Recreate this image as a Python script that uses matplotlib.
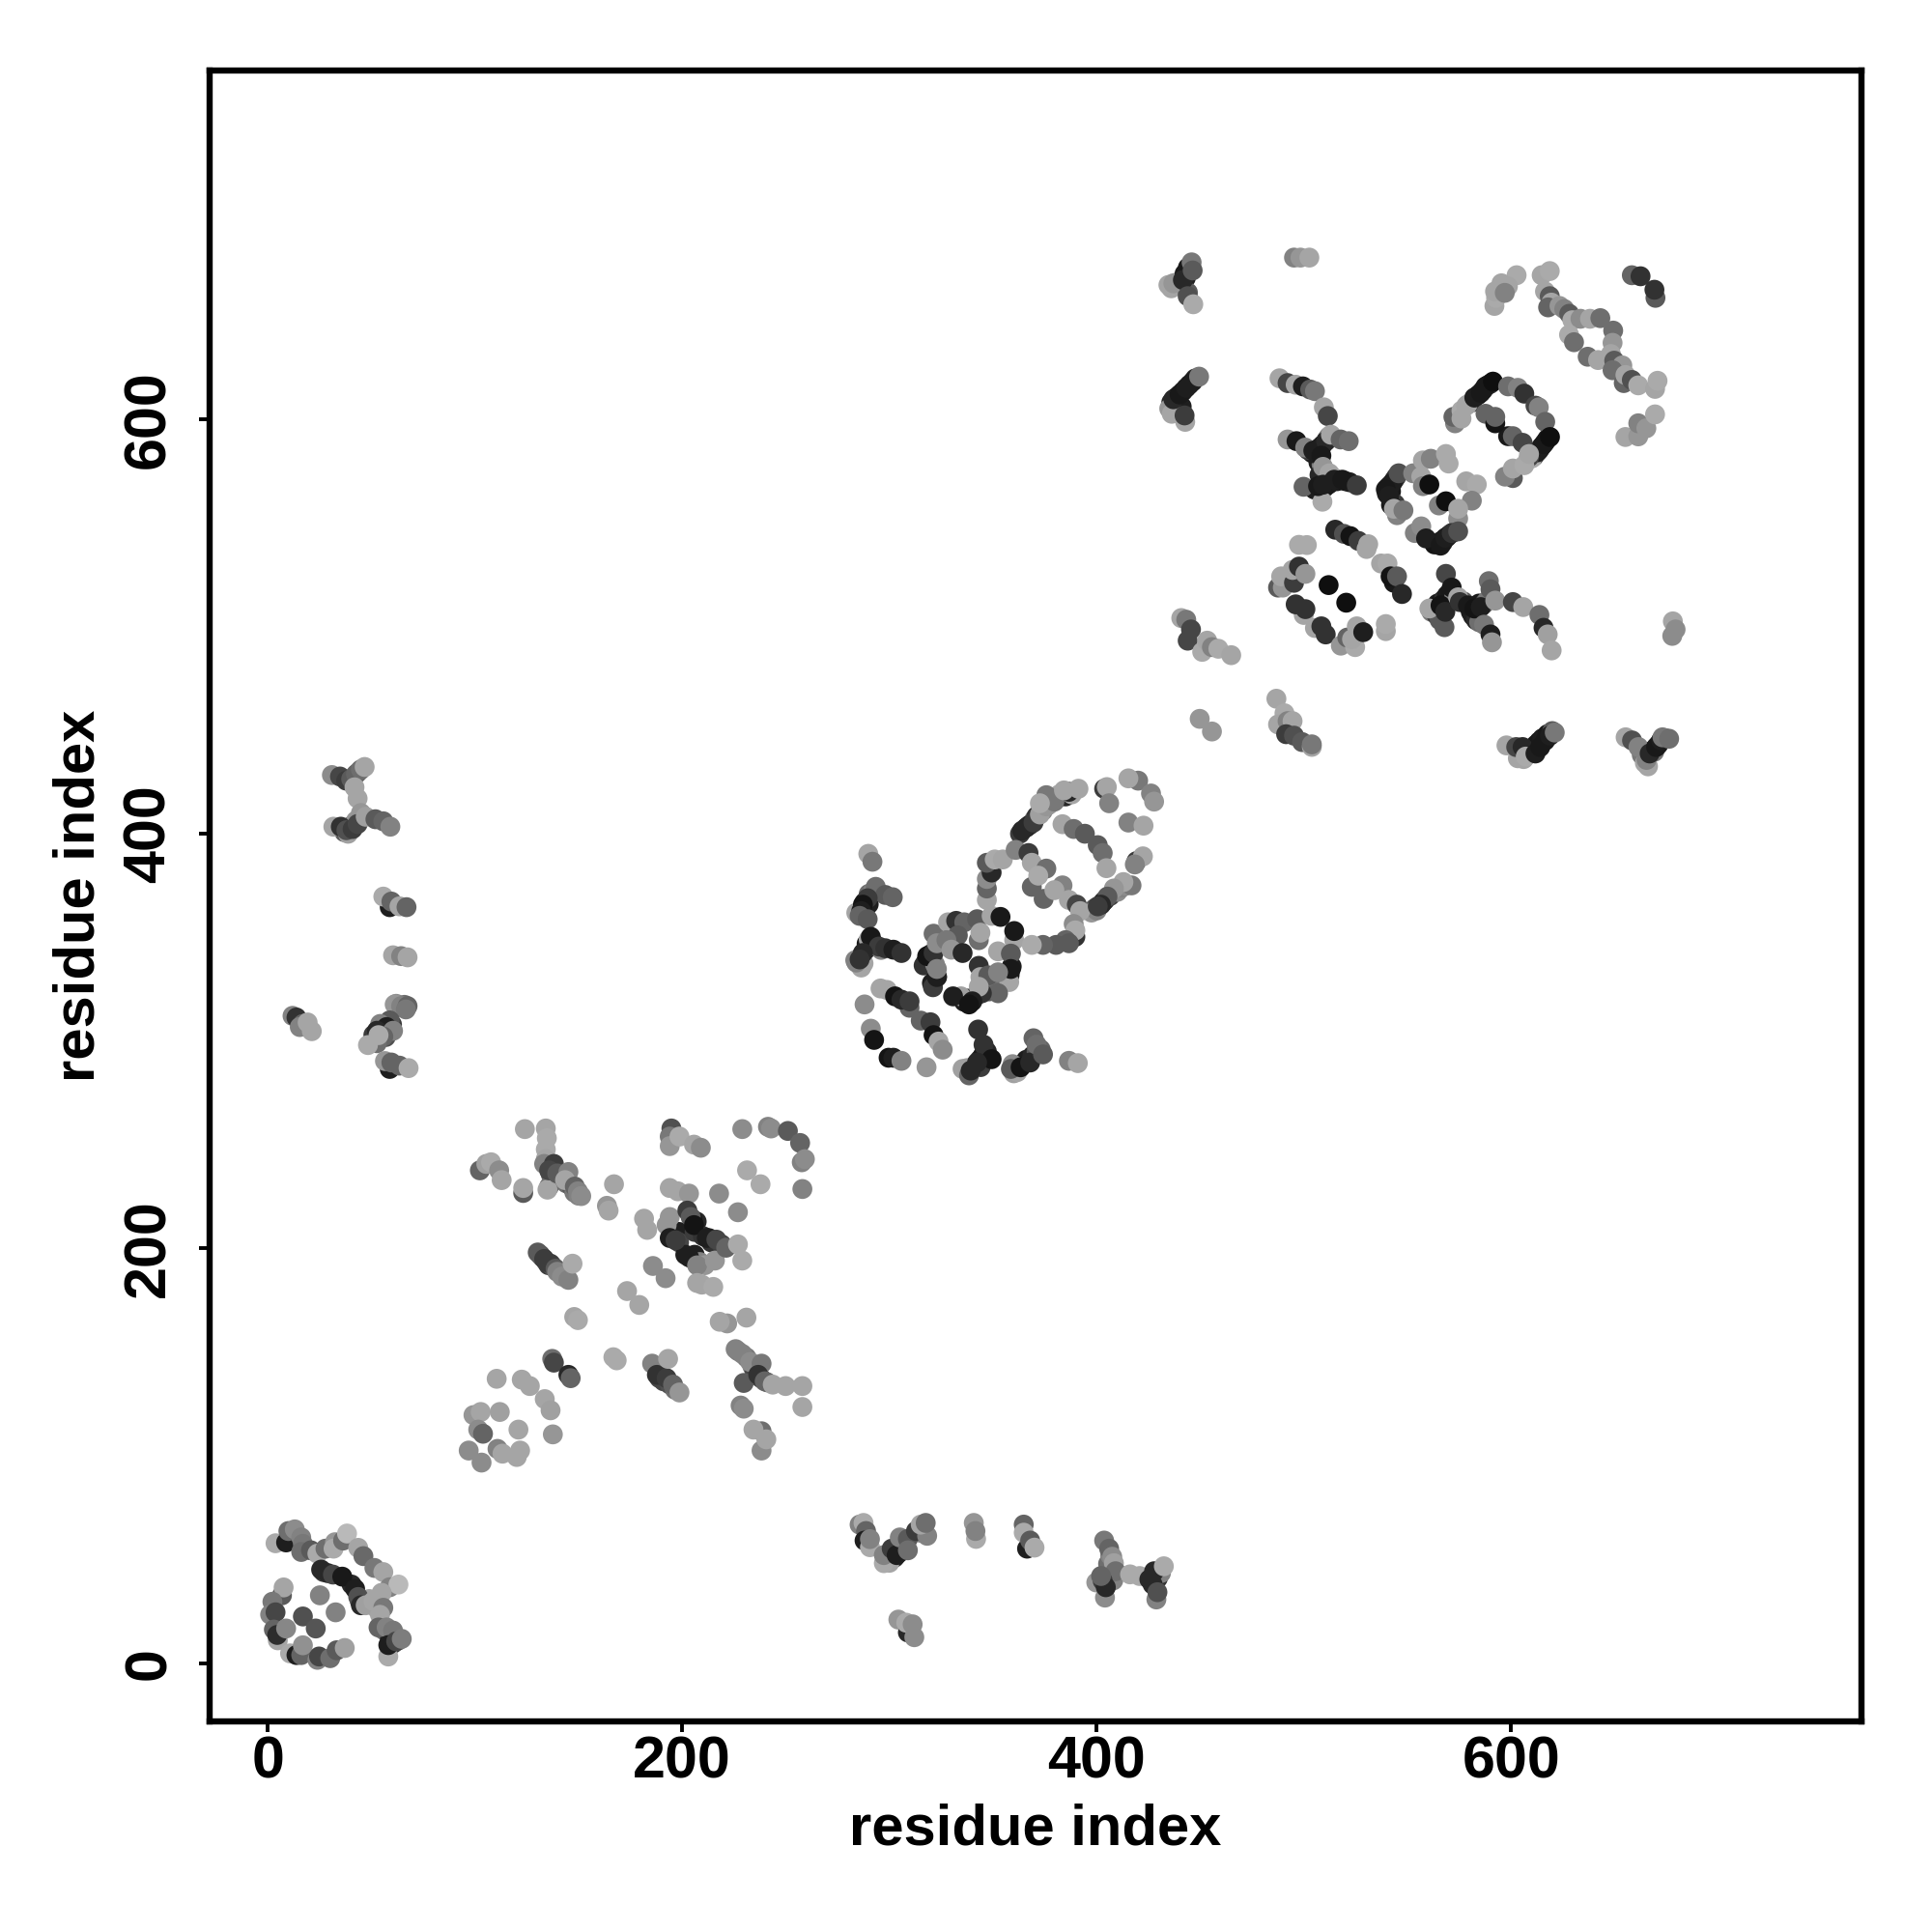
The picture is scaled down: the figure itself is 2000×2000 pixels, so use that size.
import numpy as np
import matplotlib
matplotlib.use("Agg")
import matplotlib.pyplot as plt

# (residue i, residue j, grey level), one list per block
block_a = [
    (3.8,57.9,170),(8.9,58.3,30),(10,63.8,110),(13.1,64.6,140),(16.2,60.7,130),(17,57.6,120),(16.2,53.7,110),
    (20.9,54.5,90),(24,52.9,170),(27.9,55.3,110),(32.5,58.4,150),(31.8,55.3,170),(36.4,59.2,110),(38.3,62.6,185),
    (43.7,55.7,165),(46.2,51.7,105),(51.5,46,120),(55.8,44,165),(58.9,36.7,130),(63.1,38,185),(25.8,45.2,40),
    (31.5,42.8,70),(36,41.8,25),(42.2,35.9,30),(43.7,32,80),(45,28,40),(47.3,28,160),(51,30,165),(55,34,165),
    (55.8,26.8,120),(54.2,23.4,165),(53.5,17.3,100),(57.4,17.3,130),(60.5,15.8,120),(58.2,3.3,170),(58.2,8.8,30),
    (62,10.6,70),(64.7,11.8,125),(6.9,32.8,90),(7.7,36.6,165),(2.3,29.7,120),(1.2,23.5,130),(3.8,24.6,70),
    (25.2,32.8,130),(32.8,24.6,130),(17,22.6,80),(23.2,16.8,85),(3,16.3,100),(4.9,11.1,165),(4.6,13.7,45),
    (8.9,16.8,135),(10.8,4.8,170),(13.9,4,30),(16.2,4,100),(17,8.7,145),(24,1.7,130),(24.8,3.3,70),(30.2,2.5,110),
    (33.3,6.3,90),(37.2,7.4,160),
]
block_b = [
    (31,428.3,140),(34.9,427.6,70),(37.9,425.6,60),(40.3,426.4,90),(42.6,428.7,100),(45,431,110),(46.8,432.2,165),
    (43.4,417,165),(41.9,422.4,165),(45,410,150),(42.6,406.3,150),(31.7,403.4,165),(35.3,403.4,50),(38.8,400,160),
    (38,401.7,80),(41,402.3,60),(43.4,404.7,70),(47.3,408.2,160),(52,407,90),(55.8,406,100),(59.2,403.4,130),
    (58.9,364.6,30),(55.8,369.7,170),(59.7,367.3,100),(63.6,365,165),(67,364.6,100),(60.5,341.4,165),(64.4,341,130),
    (67.5,340.4,165),(12,312.2,130),(13.9,311.4,50),(17,308.3,100),(15.5,306.8,130),(19.3,309,165),(21.3,304.8,165),
    (61.3,317.7,150),(64.4,316.9,130),(67.5,316.9,100),(66.7,315.3,120),(58.9,310,90),(54.3,308.3,130),(57.4,306.8,30),
    (52.7,305,40),(60.5,305,130),(55.8,302.2,100),(52.7,299,110),(48.4,298.1,170),(53.5,302.9,170),(58.9,286.6,30),
    (56.6,290.4,150),(59.7,289.7,100),(63.6,288.2,100),(68,287,170),
]
block_c = [
    (124.1,257.6,165),(134.2,257.9,165),(134.7,253.2,170),(134.2,247.8,170),(134.2,243.1,165),(133.4,240.8,130),
    (135.8,229.9,110),(135,228.4,165),(138.1,240.8,60),(135.8,237.7,70),(139.7,236.2,90),(145.1,236.9,130),
    (143.5,233,165),(148.2,229.9,100),(149.7,227.6,130),(151.3,225.3,140),(102.4,237.7,100),(105.5,240.8,160),
    (107.8,241.6,170),(111.7,237.7,140),(112.9,233,165),(123.3,226.8,90),(123.3,229.2,165),
    (194.8,257.9,80),(194,254,120),(194,249.4,150),(198.7,254,170),(205.7,250.1,165),(209,248.6,140),
    (229,257.6,140),(241.4,258.7,130),(242.9,257.9,140),(251,256.7,90),(256.9,250.9,100),(257.7,241.6,130),(259.2,243.1,140),
    (231.3,237.7,170),(237.8,231,170),(258,228.7,130),(217.8,226.5,140),(226.9,217.5,140),
    (167.1,231,165),(163.7,220.6,150),(164.5,218.3,165),(194,229.2,165),(197.9,227.6,165),(203.3,226.5,150),
    (181.6,214.4,165),(183.1,209,165),(194,215.2,150),(192.5,211.3,150),(202.5,218.3,60),(204.1,215.2,90),
    (205.7,211.3,20),(194,205.1,30),(196.8,204,60),(203.3,195.8,30),(207.2,191.9,130),(215.8,194.2,150),
    (211.9,205.1,30),(216.5,204.3,70),(221.2,200.4,100),(226.9,202,170),(229,194.2,170),
    (185.9,191.6,140),(192,185.7,140),(207.2,183.4,165),(209.5,182.6,165),(215,181.5,170),(173.4,179.5,165),(179.3,172.8,165),
    (147.9,167,165),(149.7,165.5,170),(221.7,163.9,150),(218.1,164.7,165),(231,166.7,165),
    (130.3,198.1,90),(133.4,195,60),(136.5,192.7,60),(138.9,190.3,90),(139.7,188.8,130),(142,186.5,140),(145.1,184.9,130),(147.1,192.7,170),
    (166.8,147.6,170),(168.4,146.1,170),(137.3,146.8,110),(138.1,145,70),(145.1,139.1,40),(146.2,137.5,100),
    (185.5,144.5,130),(187.8,139.1,50),(192.5,137.5,60),(193.2,146.8,165),(195.6,134.4,100),(198.7,130.6,150),
    (225.8,151.5,130),(229,149.2,130),(232.8,145.3,140),(238.3,144.5,120),(229.7,135.2,90),(236.7,139.1,50),(239.8,136,100),
    (243.7,134.4,165),(249.9,133.7,165),(258,133.7,165),(258,123.6,165),(228.2,124.3,130),(229.7,122.8,140),
    (238.3,111.9,110),(234.4,112.7,165),(238.3,102.6,140),(240.6,108,165),
    (110.5,137.2,165),(122.6,136.8,165),(126.5,133.7,165),(133.7,127.4,165),(136.5,122,160),(137.6,110.4,150),
    (99.3,119.7,150),(102.8,121.2,165),(112,121.2,160),(101.6,112.7,140),(103.9,110.7,100),(121,112.7,165),
    (110.9,103.4,130),(113.3,101.1,165),(120.2,99.5,165),(121.8,102.6,165),(97,102.6,140),(103.2,96.8,140),
]
block_d = [
    (289.8,390.3,165),(291.8,386.5,120),(293.4,374.4,110),(298,370.5,90),(301.6,369.4,100),(284,361.9,165),
    (289.5,368.9,60),(287.2,365.8,20),(286.4,362.7,30),(285.6,360.4,100),(289.5,358.8,90),
    (291,350.3,25),(294.9,345.6,60),(298,344.8,50),(301.9,344.1,30),(305.8,342.5,50),(286.4,335.5,165),(284,337.9,130),
    (287.2,342.5,40),(285.6,339.4,50),(288,317.7,140),(295.7,325.4,165),(298.8,324.7,165),(302.7,321.6,20),
    (309.7,316.1,100),(305.8,320,40),(309.7,319.2,60),(291,306,140),(292.6,300.6,20),(299.6,292,20),(301.9,292,30),(305.8,290.5,130),
    (317.9,287.4,150),(315.1,309.9,100),(319.8,309.1,60),(321.3,302.9,20),(323.7,299.8,165),(325.7,295.9,140),
    (342.8,305.6,50),(345.4,298.3,50),(349.3,291.3,20),(335.3,286.6,160),(338.4,283.5,100),(342.3,289.7,40),(339.2,285.8,40),
    (359.4,288.9,140),(361.7,285.1,165),(358.6,286.6,90),(363.3,287.4,20),(367.9,289.7,40),(369.5,301.4,100),(371,298.3,110),(374.1,293.6,90),
    (386.6,290.5,130),(390.9,289.4,165),
    (318.2,341,20),(321.3,342.5,50),(322.9,330.9,30),(322.9,334.8,130),(321.3,351.8,110),(322.9,347.2,140),(328.3,357.3,165),
    (332.2,358,50),(336.1,357.3,100),(333,351,90),(327.5,348.7,120),(329.9,344.1,150),(335.3,342.5,40),(342.3,358.8,90),
    (343.1,348.7,110),(343.9,352.3,165),(349.3,360.4,165),(353.6,359.9,25),(360.2,348.7,165),(360.2,353.1,25),(352.4,343.3,165),
    (358.6,342.2,90),(357.8,328.5,165),(358.6,334.8,25),(343.1,336.3,50),(343.9,330.9,165),(347.7,331.7,90),(352.4,333.2,130),
    (352.4,323.1,100),(344.6,323.1,50),(343.1,326.2,165),(334.5,321.6,160),(330.7,321.6,30),(340,319.2,30),(338.4,317.7,20),
    (347,368.1,165),(347,373.6,100),(347,378.2,140),(349.3,381.3,40),(347,386,90),(350.8,387.6,170),(354.7,387.6,165),(360.9,392.2,130),
    (367.1,390.7,60),(368.7,386,165),(375.7,383.2,110),(368.7,374.4,100),(374.4,368.6,100),(371.8,379.8,170),(383.5,375.1,130),
    (379.6,372.8,165),(386.6,368.1,165),(390.4,365.8,70),(392,362.7,165),(388.9,356.5,140),(389.7,350.3,50),(389.7,353.4,170),
    (385,348.7,100),(386.6,347.2,90),(380.4,346.4,90),(374.1,346.4,100),(368.7,346.4,170),
    (364,401.5,40),(367.1,403.9,40),(369.5,405.4,60),(372.6,409.3,160),(375.7,413.2,150),(379.6,415.5,120),(375.7,418.6,120),
    (372.6,414.7,170),(386.6,420.2,40),(384.2,420.9,165),(391.2,421.7,165),(383.5,404.6,165),(388.9,402.3,110),(394.3,400,90),
    (400.5,394.5,90),(402.9,390.7,110),(404.7,383.4,165),(403.6,421.7,60),(404.9,422.5,165),(406,414.7,130),(420,425.6,120),(415.3,426.7,165),
    (426.2,419.4,130),(427.7,415.5,150),(415.3,405.4,130),(422.6,403.9,165),(419.2,386.8,60),(422.3,389.1,165),(418.4,385.2,130),
    (416.8,375.1,120),(412.9,376.7,165),(408.3,373.6,150),(405.2,369.7,90),(402.1,365.8,40),(400.5,365,60),
]
block_e = [
    (285.6,66.9,130),(287.5,67.7,170),(288.7,63.8,100),(288,59.2,30),(290.6,56,170),(290.6,59.9,130),
    (297.3,48.3,170),(297.3,52.2,130),(301.1,55.3,60),(303.5,52.2,30),(305,60.7,130),(308.9,60,90),(308.9,54.5,110),
    (312.8,63.8,60),(318.2,61.5,130),(315.1,66.9,165),(317.5,67.7,110),(340.7,67.7,150),(341.8,60,170),(341.5,63.8,130),
    (364.8,66.9,100),(366.4,55.3,30),(364.8,63,170),(367.9,59.2,90),(370,55.8,170),
    (304.3,21.1,150),(308.9,14.9,40),(308.1,19.6,170),(311.2,18.8,140),(312,12.6,140),
    (403.6,59.2,120),(406,55.3,100),(407.5,51.4,140),(408.3,48.3,160),(409.1,44.4,110),(399.8,39,150),(404,31.7,140),
    (402.9,39.8,60),(404.4,36.7,40),(402.1,42.1,100),(416.1,42.9,170),(420.7,42.1,170),
    (427.7,44.4,40),(425.4,40.5,40),(428.8,30.8,130),(429.3,34.3,80),(432.4,46.8,170),
]
block_f = [
    (434.6,664.6,165),(437,665.4,150),(442.4,670,25),(441.6,667,40),(445.8,675.5,120),(446.3,671.6,90),(443.9,659.2,80),(446.6,655.3,170),
    (495.2,677.8,130),(498.3,677.8,150),(502.6,677.8,165),
    (436.2,602.5,165),(442.7,598.6,165),(437,609.5,40),(440,611.8,25),(443.2,615,30),(446.3,618,30),(449.4,620.4,120),(442.4,601.7,60),
    (488.2,619.6,165),(492.1,617.3,70),(496,616.5,165),(499.5,615.7,30),(503,614.2,90),(505.3,613.4,120),(509.6,605.6,165),(511.5,601.4,70),
    (492.1,590.1,150),(496.4,589.3,25),(500.6,586.2,130),(504.5,584.7,30),(507.6,586.2,30),(510.7,589.3,40),(508.4,582.3,25),(513,592.4,165),
    (517.7,590.1,100),(521.6,589.3,110),(509.2,576.9,150),(512.3,573.8,165),(499.8,567.3,100),(508.9,560.1,170),(506.8,567.6,25),
    (509.2,568.3,30),(514.6,570.7,30),(518.5,570.7,25),(525.5,568,60),
]
block_g = [
    (542.6,569.1,30),(539.5,566,25),(541,562.9,30),(545.7,573.8,80),(544.9,553.6,130),(543.4,556.7,165),(548,555.9,120),
    (552.7,573.8,130),(557.4,580,165),(561.2,580.8,130),(568.5,583.1,170),(569.8,578.5,170),(556.6,572.2,165),(557.4,567.6,130),(560.5,568.4,15),
    (565.1,558.3,130),(568.5,560.3,15),(578.3,569.9,165),(583.4,568.4,170),(581,560.6,130),(574.4,552,140),(574.4,556.7,165),
    (553.5,545,130),(556.6,548.2,140),(558.9,542.4,30),(565.9,538.9,25),(568.2,542.7,30),(571.3,545,50),(574.4,545.8,80),
    (572.9,597.9,130),(572.1,601,100),(576,604,170),(578.3,606.4,165),(576,600.2,165),
    (582.2,610.3,30),(585.3,612.6,25),(587.6,615.7,25),(591.2,618,15),(598.5,615.7,110),(603.2,615,130),(606.3,612.2,50),
    (611.7,606.4,70),(613.3,605.6,130),(616.4,598.6,100),(612.5,583.9,30),(615.6,587.8,25),(618.7,591.3,15),
    (598.5,591.7,25),(600.8,591.7,100),(605.5,588.5,70),(608.6,581.6,70),(587.6,602.5,100),(592.3,597.9,20),(592.3,601,100),
    (600.8,571.5,90),(597,572.2,130),(600.8,576.1,165),(606.3,577.7,170),(608.6,583.1,165),
    (497.6,539.3,170),(501.4,539.2,170),(487.5,518.7,90),(489.8,518.7,150),(489,524.1,165),(495.2,521,60),(494.5,527.2,165),(497.6,528.8,50),(500.7,525.3,150),
    (511.9,519.9,15),(520.4,511.4,15),(499.9,505.5,165),(496,510.6,50),(500.7,508.3,50),(505.3,499.2,165),(508.4,500,50),(510.5,496.1,50),
    (517.8,490.7,150),(520.9,494.6,100),(524.7,490,170),(523.2,493.8,165),(525.5,500,165),(528.6,497.2,30),(539.5,497.7,165),(539.5,501.1,170),
    (515.1,546.6,40),(519.3,544.6,80),(522.4,543.5,20),(526.3,541.2,60),(530.2,537.3,165),(531,539.6,165),(537.2,530.3,165),(540.3,530.3,170),
    (543.4,521,25),(541.8,524.1,20),(544.9,524.1,90),(547.3,515.6,40),
    (568.5,525.3,70),(571.3,518.7,25),(567.8,499.6,90),(560.5,508.6,165),(565.9,510.1,20),(568.2,507,40),(574.4,514,165),(575.2,511.7,50),
    (589.2,521.8,110),(590,517.9,90),(579.1,510.1,25),(582.2,508.6,20),(585.3,509.3,30),(592.3,512.4,150),(586.9,500.8,120),(590,496.1,30),(590.7,492.3,150),
    (600.8,511.7,70),(605.8,509.3,165),(613.6,505.5,110),(615.6,499.3,40),(617.6,496.1,160),(619.5,488.4,165),
    (677.7,495.4,140),(678,502.4,165),(679.3,498.5,140),
]
block_h = [
    (440.8,504,165),(443.2,503.2,120),(445.5,498.5,70),(443.9,493.1,70),(450.9,487.7,170),(453.3,493.1,165),(455.6,490,130),(458.7,489.2,170),(464.9,486.1,165),
    (449.7,455.4,150),(455.6,449.3,150),
    (486.7,465.1,165),(490.6,458.1,170),(487.5,452.7,165),(492.1,454.3,130),(494.5,454.3,165),(491.4,448,60),(495.2,447.3,80),(499.1,444.2,90),(503.8,441.9,165),(503.8,443.1,120),
    (597.7,442.6,165),(603.2,436.4,165),(602.4,441.8,70),(605.5,441.8,40),(607,437.2,170),(611.7,438.7,30),(614,441.8,25),(616.4,444.9,25),(618.7,447.3,30),(621,448.8,120),
    (655.2,446.5,165),(658.3,445,80),(664.5,434.1,165),(665.3,435.6,130),(661.4,441.8,130),(666.8,438.7,40),(669.9,441.8,25),(672.3,445,30),(673,446.5,120),(676.2,445.8,110),
    (602.6,669.3,170),(595.3,665.4,165),(598.4,663.9,165),(591.9,654.5,165),(592.7,658.4,170),(592.2,661.5,165),(596.9,660.8,130),
    (614.7,669.3,165),(618.6,671.3,170),(616.3,661.5,165),(618.6,659.2,90),(619.4,656.1,165),(617.8,653.8,100),(623.3,654.5,150),(625.6,653,130),(628,650.7,90),
    (629.5,647.6,170),(633.4,648.3,140),(638,648.3,165),(643,648.6,110),(627.9,640.6,170),(630.3,637,110),(649.2,642.6,110),(648.9,636.7,150),
    (636.9,630,110),(641.9,628.4,165),(648.1,631.3,165),(649.7,628.1,90),(653.6,625.8,150),(648.9,623.5,110),(654.3,617.3,100),(655.1,621.2,165),(658.2,618.8,80),(661.3,616.2,170),
    (669.4,614.5,165),(670.6,618.4,170),(655.1,591.3,165),(661.3,591.6,150),(661.3,597.9,130),(665.2,595.5,150),(669.4,602.2,170),
    (658.2,669.3,100),(662.4,668.8,50),(669.6,658.4,90),(669.1,662.3,50),
]
# marks inside the dense bands, they sit under the marks above
bands_low = [
    (27,44,60),(29,43.5,40),(40.5,38,40),(44.5,30,30),(46,29,60),(49,31,165),(52.5,29,170),(53,26,160),(56,16,120),(59,12,30),(60.5,9.5,60),(63,11,120),
    (38.5,402.3,70),(40,403.5,60),(37,400.8,90),(42,405,100),(44,407,130),(39.5,426,70),(41,427,90),(43.5,429.5,120),(44.5,430.5,140),
    (63,316.5,90),(62,318,140),(66,317.5,110),(56,305,60),(54.5,304,30),(51,303,60),(60,308,60),(57,302,80),
    (403,42,60),(404.5,38,40),(406,41.5,100),(408,40,130),(405.5,48,110),(406.5,52,130),(305,53.5,40),(307,56,60),(302.5,51,40),
    (299,50,165),(300,48.5,165),(315,63,130),(429.5,41,50),(431,43.5,130),(427,38,40),
    (196,206,40),(198.5,208,30),(198.5,203,70),(207,213,40),(205,214,25),(206,208,60),(210,206,50),(213,205,30),(214,203,50),(219,202,60),
    (205,195,50),(201.5,197,30),(206,197,30),(208.5,193.5,130),(211,192,150),(131.5,197,70),(132.5,195.8,90),(134.5,193.5,80),(135.5,192,60),(137.5,191.5,90),
    (137,239,50),(136.5,236,90),(141,234,70),(144,231.5,110),(146.5,230,90),(148,227,120),(150,225.5,130),(137,241,100),
    (189,137.5,70),(190,138.5,60),(191,136,70),(194,134.5,80),(196.5,132,110),(231,147.5,120),(234,143,110),(235,141,70),(238,137.5,60),(241,135.5,100),(227,150.5,120),
]
bands_mid = [
    (290,371,110),(288,367,25),(287,364,30),(285.5,362,50),(290,366,30),(288.5,360,30),(292,372,130),
    (289,347,25),(292.5,347,40),(288.5,344,30),(286.5,341,30),(283.5,339,130),(287.5,337.5,165),(290,349,165),(296,344,130),
    (366,403,25),(368,404.5,40),(370,407,100),(371,408.5,50),(363,400,60),(374,411,130),(377,414,165),(381,417,130),(382,419,165),(385,418,40),(388,419,165),
    (403,367,30),(404,368,40),(406.5,370,60),(410,372,140),(412,374,130),(414,375,140),(399,364,90),(397.5,362,150),(400,363,130),
    (317.5,338,30),(319,339.5,25),(320,342,40),(316.5,336.5,50),(322,337,130),(323,331,50),(320.5,328,30),(321,326,60),
    (336,319,30),(337.5,320.5,25),(342,322,40),(345.5,324,70),(348,324,90),(350,327,100),(358,332,30),(359,336,30),(352,329,110),
    (341,288,30),(343.5,291,40),(345,293,25),(347,295,40),(337.5,287,160),(344,287.5,60),
    (364.5,289,25),(366,291,30),(369,293,40),(371,295,90),(360,284.5,160),(362,287,50),(373,296,100),
]
bands_high = [
    (447.5,619.5,40),(444.7,616.5,25),(441.6,613.3,30),(438.5,610.5,30),(436,608,40),(435,605,150),(439,604,40),(441,606,30),
    (444,673,25),(443,668,30),(439,666,165),(436,663,165),(444,661,90),
    (584,611.5,25),(586.5,614,30),(589,616.5,20),(590,617,50),(581,608,40),(579,607,165),
    (613.5,585,40),(614.5,586.5,25),(616.5,589,30),(617.5,590.5,25),(611,582,60),(610,581,170),
    (540.5,567,25),(541.5,568,30),(543.5,570.5,40),(544.5,572,50),(542,565,25),(540,564,30),(544,559,60),(542,558.5,25),
    (567,540.5,30),(569,543,25),(570,544,40),(572.5,545.5,60),(566,541,30),(563,539.5,20),
    (505.5,585,30),(506,582.5,25),(507,579,30),(508.5,578,120),(509,587.5,25),(511,590,50),(512,591.5,130),(504,583.5,30),(502,585,60),
    (505,566,30),(507.5,565,30),(510,567,25),(512,568.5,25),(516,570,30),(520,570,25),(522,569.5,30),(511,574,150),(514,572,165),(509,572,70),(507.5,573,40),
    (563,508,25),(564.5,511,30),(566.5,512,25),(567.5,513,50),(569,515,30),(570.5,516.5,25),(572.5,514,130),(561.5,507,120),(564,505.5,60),(565.5,503,90),
    (580.5,507,25),(583.5,510,30),(584.5,511,25),(586.5,510.5,25),(587.5,511.5,100),(588.5,512.5,120),(581.5,505,30),(583,503,40),(584.5,502,110),(577,512,90),
    (607.5,439.5,25),(609,440,30),(610.5,441.5,20),(612,443,25),(613.5,444.5,25),(615,446,30),(617.5,448,25),(619.8,449.5,90),(606,436,165),
    (668,440,30),(669,439.5,120),(671,443,25),(674.5,446,90),(666,432.5,165),(663,438,120),
]
blocks = [bands_low, bands_mid, bands_high, block_a, block_b, block_c, block_d, block_e, block_f, block_g, block_h]

x_ticks = [0, 200, 400, 600]
y_ticks = [0, 200, 400, 600]
x_name = "residue index"
y_name = "residue index"

plt.rcParams["font.family"] = ["Liberation Sans", "DejaVu Sans"]
plt.rcParams["font.weight"] = "bold"

fig = plt.figure(figsize=(10, 10), dpi=200)
ax = fig.add_axes([217 / 2000, 1 - 1782 / 2000, 1710 / 2000, 1709 / 2000])

for block in blocks:
    pts = np.array(block)
    ax.scatter(pts[:, 0], pts[:, 1], c=pts[:, 2], cmap="gray", vmin=0, vmax=255,
               s=55, edgecolors="none")

ax.set_xlim(-28, 769)
ax.set_ylim(-28, 768)
ax.set_xticks(x_ticks)
ax.set_yticks(y_ticks)
ax.tick_params(axis="x", length=4, width=1.4, labelsize=22, pad=1.3)
ax.tick_params(axis="y", length=4, width=1.4, labelsize=22, pad=8)
for label in ax.get_yticklabels():
    label.set_rotation(90)
    label.set_va("center")
ax.set_xlabel(x_name, fontsize=21.5, fontweight="bold", labelpad=4.5)
ax.set_ylabel(y_name, fontsize=21.5, fontweight="bold", labelpad=6)
for spine in ax.spines.values():
    spine.set_linewidth(2.3)

fig.savefig("out.png", dpi=200)
